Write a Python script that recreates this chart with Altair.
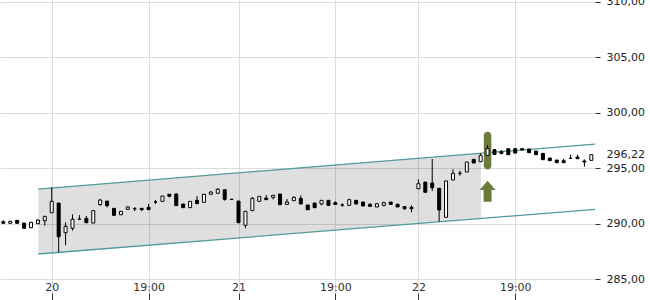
import altair as alt
import pandas as pd

# ---- candle data (index based x axis) ----
opens = [290.17, 290.03, 290.30, 290.05, 289.63, 289.99, 290.26, 290.98, 291.86, 289.18,
         289.58, 290.40, 290.48, 290.05, 291.71, 292.04, 291.38, 290.80, 291.29, 291.34,
         291.38, 291.47, 291.95, 292.01, 292.65, 292.67, 291.77, 291.44, 292.10, 291.92,
         292.65, 292.74, 293.06, 292.19, 292.04, 289.85, 291.17, 292.01, 292.31, 292.37,
         292.67, 291.74, 292.07, 292.28, 291.68, 291.86, 291.77, 292.10, 291.89, 291.68,
         291.65, 292.10, 291.95, 291.74, 291.50, 291.65, 291.95, 291.74, 291.53, 291.47,
         293.15, 293.75, 293.66, 293.19, 290.57, 293.94, 294.54, 294.66, 295.80, 295.59,
         296.16, 296.67, 296.52, 296.76, 296.76, 296.76, 296.73, 296.55, 296.34, 295.92,
         295.74, 295.68, 295.89, 296.01, 295.65, 295.71]
closes = [290.03, 290.21, 290.03, 289.58, 290.12, 290.32, 290.66, 292.01, 288.82, 289.76,
          290.39, 290.40, 290.08, 291.17, 292.13, 291.62, 290.75, 291.11, 291.50, 291.34,
          291.26, 291.26, 291.95, 292.49, 292.47, 291.62, 291.44, 292.01, 291.80, 292.65,
          292.85, 293.10, 292.19, 292.19, 290.08, 291.11, 292.28, 292.46, 292.16, 292.56,
          291.71, 291.95, 292.37, 291.77, 291.25, 291.44, 292.10, 291.65, 291.74, 291.68,
          292.16, 291.77, 291.59, 291.56, 291.80, 291.89, 291.74, 291.50, 291.35, 291.35,
          293.60, 292.83, 293.24, 291.23, 293.85, 294.54, 294.54, 295.56, 295.47, 296.16,
          296.76, 296.25, 296.34, 296.22, 296.37, 296.64, 296.40, 296.22, 295.77, 295.68,
          295.50, 295.50, 295.89, 295.86, 295.56, 296.22]
highs = [290.30, 290.21, 290.30, 290.05, 290.12, 290.39, 290.66, 293.28, 291.86, 290.12,
         290.84, 290.77, 290.69, 291.17, 292.22, 292.04, 291.38, 291.11, 291.59, 291.50,
         291.38, 291.77, 292.13, 292.49, 292.65, 292.76, 291.77, 292.01, 292.49, 292.65,
         292.94, 293.21, 293.06, 292.19, 292.04, 291.11, 292.40, 292.46, 292.58, 292.56,
         292.67, 292.22, 292.49, 292.55, 291.68, 291.86, 292.10, 292.10, 292.01, 291.83,
         292.25, 292.10, 291.95, 291.83, 291.80, 291.98, 291.95, 291.83, 291.53, 291.65,
         294.00, 293.75, 295.83, 293.19, 293.85, 294.90, 294.77, 295.56, 295.80, 296.35,
         297.09, 296.67, 296.64, 296.76, 296.76, 296.82, 296.73, 296.55, 296.34, 295.92,
         295.74, 295.86, 296.22, 296.22, 295.80, 296.22]
lows = [290.03, 290.03, 290.03, 289.58, 289.63, 289.99, 289.81, 290.98, 287.41, 288.04,
        289.36, 290.40, 290.08, 290.05, 291.62, 291.47, 290.75, 290.80, 291.23, 291.14,
        291.14, 291.26, 291.77, 292.01, 292.37, 291.62, 291.44, 291.44, 291.80, 291.92,
        292.65, 292.74, 292.07, 292.19, 290.08, 289.58, 291.17, 292.01, 292.16, 292.19,
        291.71, 291.74, 292.07, 291.77, 291.25, 291.44, 291.65, 291.65, 291.74, 291.53,
        291.65, 291.77, 291.59, 291.56, 291.50, 291.56, 291.74, 291.50, 291.23, 291.02,
        293.15, 292.83, 292.94, 290.17, 290.57, 293.94, 294.32, 294.66, 295.47, 295.59,
        296.16, 296.25, 296.25, 296.22, 296.37, 296.64, 296.40, 296.22, 295.77, 295.68,
        295.50, 295.50, 295.89, 295.86, 295.14, 295.71]
idx = list(range(len(opens)))

# ---- axes ----
x_tick_pos = [7, 21, 34, 48, 60, 74]
x_tick_labels = ["20", "19:00", "21", "19:00", "22", "19:00"]
y_ticks = [285, 290, 295, 300, 305, 310]
last_price = 296.22

# ---- trend channel ----
channel_x = [5.06, 85.53]
channel_upper = [293.12, 297.18]
channel_lower = [287.26, 291.29]
shade_x = [5.06, 69.05]
shade_upper = [293.12, 296.35]
shade_lower = [287.26, 290.49]

# ---- signal ----
signal_idx = [70]
signal_low = [294.9]
signal_high = [298.29]
arrow_price = [292.92]

candles = pd.DataFrame({"i": idx, "open": opens, "close": closes, "high": highs, "low": lows})
shade = pd.DataFrame({"x": shade_x, "upper": shade_upper, "lower": shade_lower})
chan = pd.DataFrame({
    "x": channel_x + channel_x,
    "v": channel_upper + channel_lower,
    "line": ["upper"] * len(channel_x) + ["lower"] * len(channel_x),
})
sig = pd.DataFrame({"x": signal_idx, "lo": signal_low, "hi": signal_high, "arrow": arrow_price})

FONT = "DejaVu Sans"
GRID = "#dcdcdc"

xscale = alt.Scale(domain=[-0.48, 85.53], nice=False, zero=False, padding=0)
yscale = alt.Scale(domain=[283.74, 310.18], nice=False, zero=False, padding=0)

label_expr = ""
for p, l in zip(x_tick_pos, x_tick_labels):
    label_expr += f"datum.value == {p} ? '{l}' : "
label_expr += "''"

xaxis = alt.Axis(values=x_tick_pos, labelExpr=label_expr, title=None, domain=False,
                 grid=True, gridColor=GRID, tickSize=7, tickColor="#333",
                 labelPadding=-19, labelFontSize=11, labelFont=FONT, labelColor="#333",
                 labelFlush=False)
yaxis = alt.Axis(orient="right", values=y_ticks + [last_price], title=None, domain=False,
                 labelExpr="replace(format(datum.value, '.2f'), '.', ',')",
                 grid=True, gridColor=GRID,
                 gridOpacity={"condition": {"test": f"datum.value == {last_price}", "value": 0}, "value": 1},
                 tickOpacity={"condition": {"test": f"datum.value == {last_price}", "value": 0}, "value": 1},
                 tickSize=5, tickColor="#333", labelPadding=6, labelOverlap=False,
                 labelFontSize=11, labelFont=FONT, labelColor="#222")


def X(f):
    return alt.X(f, type="quantitative", scale=xscale, axis=xaxis)


def Y(f):
    return alt.Y(f, type="quantitative", scale=yscale, axis=yaxis)


area = alt.Chart(shade).mark_area(color="black", opacity=0.125).encode(
    x=X("x"), y=Y("upper"), y2="lower")

lines = alt.Chart(chan).mark_line(color="#4f9a9a", strokeWidth=1.3).encode(
    x=X("x"), y=Y("v"), detail="line")

highlight = alt.Chart(sig).mark_bar(color="#6a7b3b", size=7.5, cornerRadius=3.7).encode(
    x=X("x"), y=Y("lo"), y2="hi")

arrow_path = "M0,-1.3L1,-0.17L0.5,-0.17L0.5,1.3L-0.5,1.3L-0.5,-0.17L-1,-0.17Z"
arrow = alt.Chart(sig).mark_point(shape=arrow_path, filled=True, size=256,
                                  color="#6a7b3b", opacity=1, strokeWidth=0).encode(
    x=X("x"), y=Y("arrow"))

wicks = alt.Chart(candles).mark_rule(color="black", strokeWidth=1).encode(
    x=X("i"), y=Y("low"), y2="high")

bodies = alt.Chart(candles).mark_bar(size=3, stroke="black", strokeWidth=1).encode(
    x=X("i"), y=Y("open"), y2="close",
    fill=alt.condition("datum.close > datum.open", alt.value("white"), alt.value("black")))

chart = alt.layer(area, lines, highlight, arrow, wicks, bodies).properties(
    width=595, height=293,
    autosize=alt.AutoSizeParams(type="none"),
    padding={"left": 0, "top": 0, "right": 55, "bottom": 7},
    background="white",
).configure_view(stroke=None)

chart.save("out.html", embed_options={"renderer": "svg", "actions": False})
